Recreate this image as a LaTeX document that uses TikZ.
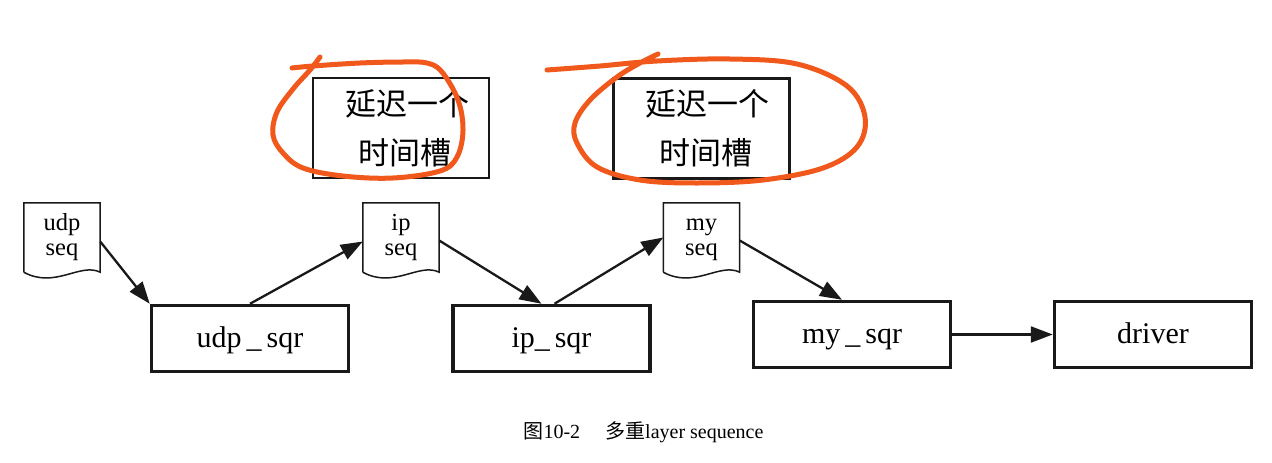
\documentclass[tikz,border=0pt]{standalone}
\usepackage{fontspec}
\setmainfont{Liberation Serif}
\newfontfamily\cjk{Noto Sans CJK SC}
\usetikzlibrary{arrows.meta,calc}
\definecolor{ink}{RGB}{25,25,25}
\definecolor{marker}{RGB}{240,88,28}
\newcommand\docpath[1]{%
  \draw[docline] ($(#1.south west)$) -- (#1.north west) -- (#1.north east) -- (#1.south east)
    .. controls ($(#1.south east)+(-20,-10)$) and ($(#1.south west)+(31,17)$) .. (#1.south west);}
\begin{document}
\begin{tikzpicture}[x=1pt,y=-1pt,
  sqrbox/.style={draw=ink,line width=3.5pt,minimum width=197pt,minimum height=66pt,inner sep=0pt,
    text height=24pt,text depth=7pt,font=\fontsize{30}{34}\selectfont},
  docnode/.style={minimum width=76pt,minimum height=69pt,inner sep=0pt},
  doctext/.style={inner sep=0pt,anchor=base,text height=16pt,text depth=5pt,font=\fontsize{24.5}{21}\selectfont},
  docline/.style={draw=ink,line width=1.5pt,line join=miter},
  slotbox/.style={draw=ink,minimum width=176pt,minimum height=100pt,inner sep=0pt,align=center,
    font=\cjk\fontsize{31}{49}\selectfont},
  flow/.style={draw=ink,line width=2.3pt,-{Triangle[length=22pt,width=16pt]}},
  loop/.style={draw=marker,line width=5pt,line cap=round,line join=round}]
\useasboundingbox (0,0) rectangle (1272,463);
\fill[white] (0,0) rectangle (1272,463);

% time slot boxes
\node[slotbox,line width=1.5pt] (slotA) at (401,128) {\hspace*{12pt}延迟一个\\\hspace*{8pt}时间槽};
\node[slotbox,line width=3pt] (slotB) at (701.5,128) {\hspace*{12pt}延迟一个\\\hspace*{8pt}时间槽};

% sequence documents
\node[docnode] (udp) at (62,237.5) {};
\node[docnode] (ip) at (401,237.5) {};
\node[docnode] (my) at (701.5,237.5) {};
\docpath{udp}
\docpath{ip}
\docpath{my}
\node[doctext] (udpa) at (62,230.5) {udp};
\node[doctext] (udpb) at (62,255) {seq};
\node[doctext] (ipa) at (401,230.5) {ip};
\node[doctext] (ipb) at (401,255) {seq};
\node[doctext] (mya) at (701.5,230.5) {my};
\node[doctext] (myb) at (701.5,255) {seq};

% square boxes
\node[sqrbox] (udpsqr) at (250,338.5) {udp\,\_\,sqr};
\node[sqrbox] (ipsqr) at (551.5,338.5) {ip\_\,sqr};
\node[sqrbox] (mysqr) at (852,334.5) {my\,\_\,sqr};
\node[sqrbox] (driver) at (1153,334.5) {driver};

% connectors
\draw[flow] ([yshift=-4pt]udp.east) -- (udpsqr.north west);
\draw[flow] (udpsqr.north) -- ([yshift=-4pt]ip.west);
\draw[flow] ([yshift=-3pt]ip.east) -- ([xshift=-10pt]ipsqr.north);
\draw[flow] ([xshift=3pt]ipsqr.north) -- (my.west);
\draw[flow] ([yshift=-3pt]my.east) -- ([xshift=-10pt]mysqr.north);
\draw[flow] (mysqr.east) -- (driver.west);

% caption
\node[font=\fontsize{20}{23}\selectfont,anchor=base west] (caption) at (520,438) {{\cjk 图}10-2\hspace{25pt}{\cjk 多重}layer sequence};

% hand-drawn orange loops
\draw[loop] plot[smooth,tension=0.6] coordinates {(292,68) (313,66) (360,63) (403,62) (427,63) (442,72) (458,100) (463,130) (457,157) (440,171) (393,178) (343,176) (303,168) (283,153) (273,135) (277,112) (293,89) (310,70) (320,57)};
\draw[loop] plot[smooth,tension=0.6] coordinates {(547,70) (600,66) (657,61) (730,59) (797,64) (847,86) (865,117) (857,147) (823,168) (763,180) (697,183) (640,180) (597,167) (577,143) (575,123) (590,100) (617,77) (640,63) (658,54)};
\end{tikzpicture}
\end{document}
